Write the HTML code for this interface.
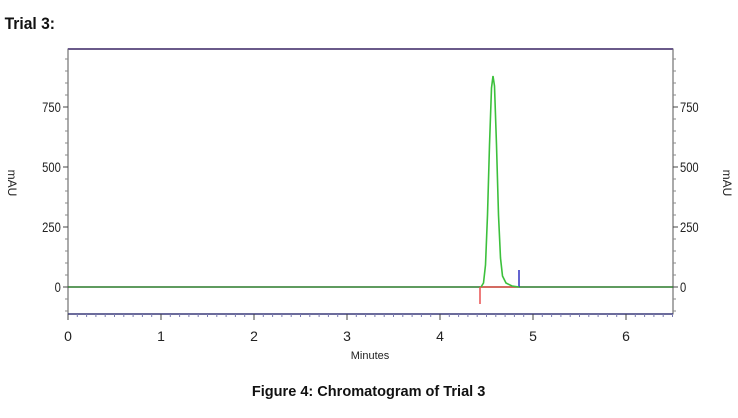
<!DOCTYPE html>
<html><head><meta charset="utf-8"><style>
body{margin:0;background:#fff;width:738px;height:418px;overflow:hidden}
svg{display:block}
</style></head><body>
<svg width="738" height="418" xmlns="http://www.w3.org/2000/svg" font-family="Liberation Sans, sans-serif">
<text x="5" y="29" font-size="17" font-weight="bold" fill="#111" transform="scale(0.92,1)">Trial 3:</text>
<rect x="68" y="49" width="605" height="265" fill="none" stroke="#555" stroke-width="1"/>
<line x1="68" y1="49" x2="673" y2="49" stroke="#6a5a8a" stroke-width="2"/>
<line x1="68" y1="314" x2="673" y2="314" stroke="#3a3a7a" stroke-width="1.5"/>
<g stroke="#444" stroke-width="1">
<line x1="63" y1="107" x2="68" y2="107"/><line x1="63" y1="167" x2="68" y2="167"/><line x1="63" y1="227" x2="68" y2="227"/><line x1="63" y1="287" x2="68" y2="287"/>
<line x1="673" y1="107" x2="678" y2="107"/><line x1="673" y1="167" x2="678" y2="167"/><line x1="673" y1="227" x2="678" y2="227"/><line x1="673" y1="287" x2="678" y2="287"/>
<line x1="68" y1="314" x2="68" y2="320"/><line x1="161" y1="314" x2="161" y2="320"/><line x1="254" y1="314" x2="254" y2="320"/><line x1="347" y1="314" x2="347" y2="320"/><line x1="440" y1="314" x2="440" y2="320"/><line x1="533" y1="314" x2="533" y2="320"/><line x1="626" y1="314" x2="626" y2="320"/>
</g>
<g stroke="#888" stroke-width="1">
<path d="M65 59H68M65 71H68M65 83H68M65 95H68M65 119H68M65 131H68M65 143H68M65 155H68M65 179H68M65 191H68M65 203H68M65 215H68M65 239H68M65 251H68M65 263H68M65 275H68M65 299H68M65 311H68"/>
<path d="M673 59H676M673 71H676M673 83H676M673 95H676M673 119H676M673 131H676M673 143H676M673 155H676M673 179H676M673 191H676M673 203H676M673 215H676M673 239H676M673 251H676M673 263H676M673 275H676M673 299H676M673 311H676"/>
</g>
<path d="M77.3 314v3M86.6 314v3M95.9 314v3M105.2 314v3M114.5 314v3M123.8 314v3M133.1 314v3M142.4 314v3M151.7 314v3M170.3 314v3M179.6 314v3M188.9 314v3M198.2 314v3M207.5 314v3M216.8 314v3M226.1 314v3M235.4 314v3M244.7 314v3M263.3 314v3M272.6 314v3M281.9 314v3M291.2 314v3M300.5 314v3M309.8 314v3M319.1 314v3M328.4 314v3M337.7 314v3M356.3 314v3M365.6 314v3M374.9 314v3M384.2 314v3M393.5 314v3M402.8 314v3M412.1 314v3M421.4 314v3M430.7 314v3M449.3 314v3M458.6 314v3M467.9 314v3M477.2 314v3M486.5 314v3M495.8 314v3M505.1 314v3M514.4 314v3M523.7 314v3M542.3 314v3M551.6 314v3M560.9 314v3M570.2 314v3M579.5 314v3M588.8 314v3M598.1 314v3M607.4 314v3M616.7 314v3M635.3 314v3M644.6 314v3M653.9 314v3M663.2 314v3M672.5 314v3" stroke="#7a7ab0" stroke-width="1"/>
<g font-size="14" fill="#222" transform="scale(0.8,1)">
<text x="76" y="112" text-anchor="end">750</text>
<text x="76" y="172" text-anchor="end">500</text>
<text x="76" y="232" text-anchor="end">250</text>
<text x="76" y="292" text-anchor="end">0</text>
<text x="850" y="112">750</text>
<text x="850" y="172">500</text>
<text x="850" y="232">250</text>
<text x="850" y="292">0</text>
</g>
<g font-size="14" fill="#222" text-anchor="middle">
<text x="68" y="341">0</text><text x="161" y="341">1</text><text x="254" y="341">2</text><text x="347" y="341">3</text><text x="440" y="341">4</text><text x="533" y="341">5</text><text x="626" y="341">6</text>
</g>
<text x="370" y="359" font-size="11" fill="#222" text-anchor="middle">Minutes</text>
<text transform="translate(8,183) rotate(90)" font-size="12" fill="#222" text-anchor="middle">mAU</text>
<text transform="translate(723,183) rotate(90)" font-size="12" fill="#222" text-anchor="middle">mAU</text>
<line x1="68" y1="287" x2="673" y2="287" stroke="#2a7a2a" stroke-width="1.5"/>
<line x1="480" y1="287" x2="519" y2="287" stroke="#e85050" stroke-width="1.5"/>
<line x1="480" y1="287" x2="480" y2="304" stroke="#e85050" stroke-width="1.5"/>
<line x1="519" y1="270" x2="519" y2="287" stroke="#3030c0" stroke-width="1.5"/>
<path d="M481 287L483.5 283L485.5 265L487.5 215L489.5 145L491.5 88L493 76L494.5 86L496.5 145L498.5 215L500.5 258L502.5 276L506 283L512 286L519 287" fill="none" stroke="#3cc03c" stroke-width="1.6"/>
<text x="380" y="396" font-size="15" font-weight="bold" fill="#111" text-anchor="middle" transform="scale(0.97,1)">Figure 4: Chromatogram of Trial 3</text>
</svg>
</body></html>
